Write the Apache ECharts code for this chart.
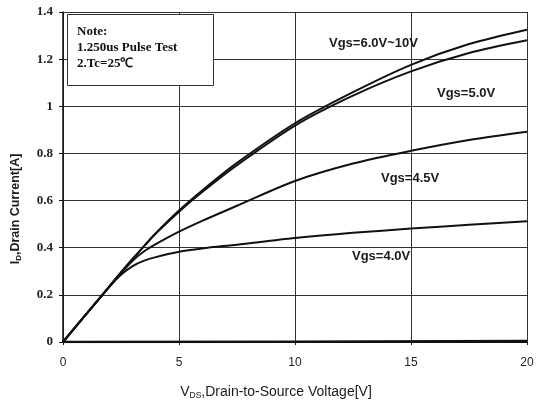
<!DOCTYPE html>
<html>
<head>
<meta charset="utf-8">
<script src="https://cdn.jsdelivr.net/npm/echarts@6/dist/echarts.min.js"></script>
<style>
  html, body { margin: 0; padding: 0; background: #fff; }
  #container { width: 541px; height: 408px; }
</style>
</head>
<body>
<div id="container"></div>
<script>
// V_DS sample points (V)
const vds = [0, 1, 2, 2.5, 3, 3.5, 4, 5, 6, 7.5, 10, 12.5, 15, 17.5, 20];
// drain current (A) per gate voltage
const idVgs6to10 = [0, 0.118, 0.236, 0.295, 0.352, 0.408, 0.462, 0.558, 0.643, 0.76, 0.928, 1.06, 1.176, 1.264, 1.325];
const idVgs5 = [0, 0.118, 0.236, 0.295, 0.352, 0.407, 0.46, 0.553, 0.636, 0.75, 0.918, 1.045, 1.148, 1.226, 1.28];
const idVgs45 = [0, 0.118, 0.235, 0.292, 0.345, 0.385, 0.415, 0.468, 0.514, 0.578, 0.683, 0.757, 0.811, 0.857, 0.892];
const idVgs4 = [0, 0.118, 0.234, 0.285, 0.322, 0.345, 0.36, 0.383, 0.397, 0.413, 0.441, 0.463, 0.481, 0.497, 0.512];
// the flat trace along the axis
const vdsLow = [0, 10, 20];
const idLow = [0, 0.001, 0.004];

const xTicks = [0, 5, 10, 15, 20];
const yTicks = [0, 0.2, 0.4, 0.6, 0.8, 1, 1.2, 1.4];

const curveLabels = [
  { text: 'Vgs=6.0V~10V', x: 329, y: 43 },
  { text: 'Vgs=5.0V', x: 437, y: 93 },
  { text: 'Vgs=4.5V', x: 381, y: 178 },
  { text: 'Vgs=4.0V', x: 352, y: 256 }
];
const noteLines = ['Note:', '1.250us Pulse Test', '2.Tc=25\u2103'];

function pairs(xs, ys) {
  return xs.map((x, i) => [x, ys[i]]);
}

function curve(name, ys) {
  return {
    name: name,
    type: 'line',
    data: pairs(vds, ys),
    smooth: 0.3,
    showSymbol: false,
    lineStyle: { color: '#111', width: 2 },
    z: 3
  };
}

let divEle = document.getElementById('container');
let instance = echarts.init(divEle, null, { renderer: 'canvas' });

const graphics = [
  {
    type: 'rect',
    left: 67, top: 14,
    shape: { width: 146, height: 71 },
    style: { fill: '#fff', stroke: '#333', lineWidth: 1 },
    z: 10
  }
];
noteLines.forEach((t, i) => {
  graphics.push({
    type: 'text',
    x: 77, y: 32 + i * 16,
    style: {
      text: t,
      font: 'bold 13px "Liberation Serif", serif',
      fill: '#111',
      verticalAlign: 'middle'
    },
    z: 11
  });
});
curveLabels.forEach(l => {
  graphics.push({
    type: 'text',
    x: l.x, y: l.y,
    style: {
      text: l.text,
      font: 'bold 13px "Liberation Sans", Arial, sans-serif',
      fill: '#1a1a1a',
      verticalAlign: 'middle'
    },
    z: 11
  });
});

instance.setOption({
  animation: false,
  backgroundColor: '#fff',
  // grid edges match the plot frame of the picture
  grid: { left: 63, right: 14, top: 12, bottom: 66, containLabel: false },
  xAxis: {
    type: 'value',
    min: xTicks[0],
    max: xTicks[xTicks.length - 1],
    interval: 5,
    name: '{v|V}{s|DS}{v|,Drain-to-Source Voltage[V]}',
    nameLocation: 'middle',
    nameGap: 42,
    nameTextStyle: {
      padding: [0, 38, 0, 0],
      rich: {
        v: { fontFamily: '"Liberation Sans", Arial, sans-serif', fontSize: 14, color: '#1a1a1a' },
        s: { fontFamily: '"Liberation Sans", Arial, sans-serif', fontSize: 8.5, color: '#1a1a1a', verticalAlign: 'bottom', padding: [7, 0, 0, 0] }
      }
    },
    axisLine: { show: true, lineStyle: { color: '#111', width: 1 } },
    axisTick: { show: true, length: 3, lineStyle: { color: '#111' } },
    axisLabel: {
      margin: 15,
      fontFamily: '"Liberation Sans", Arial, sans-serif',
      fontSize: 12,
      color: '#222'
    },
    splitLine: { show: true, lineStyle: { color: '#333', width: 1 } }
  },
  yAxis: {
    type: 'value',
    min: yTicks[0],
    max: yTicks[yTicks.length - 1],
    interval: 0.2,
    name: '{v|I}{s|D}{v|,Drain Current[A]}',
    nameLocation: 'middle',
    nameGap: 40,
    nameRotate: 90,
    nameTextStyle: {
      padding: [0, 64, 0, 0],
      rich: {
        v: { fontFamily: '"Liberation Sans", Arial, sans-serif', fontWeight: 'bold', fontSize: 12.5, color: '#1a1a1a' },
        s: { fontFamily: '"Liberation Sans", Arial, sans-serif', fontWeight: 'bold', fontSize: 8, color: '#1a1a1a', verticalAlign: 'bottom', padding: [6, 0, 0, 0] }
      }
    },
    axisLine: { show: true, lineStyle: { color: '#111', width: 1.5 } },
    axisTick: { show: true, inside: false, length: 4, lineStyle: { color: '#111' } },
    axisLabel: {
      margin: 10,
      fontFamily: '"Liberation Serif", "Times New Roman", serif',
      fontWeight: 'bold',
      fontSize: 13,
      color: '#222',
      formatter: v => String(Math.round(v * 10) / 10)
    },
    splitLine: { show: true, lineStyle: { color: '#333', width: 1 } }
  },
  series: [
    curve('Vgs=6.0V~10V', idVgs6to10),
    curve('Vgs=5.0V', idVgs5),
    curve('Vgs=4.5V', idVgs45),
    curve('Vgs=4.0V', idVgs4),
    {
      name: 'low',
      type: 'line',
      data: pairs(vdsLow, idLow),
      showSymbol: false,
      lineStyle: { color: '#111', width: 2.5 },
      z: 3
    }
  ],
  graphic: graphics
});
</script>
</body>
</html>
